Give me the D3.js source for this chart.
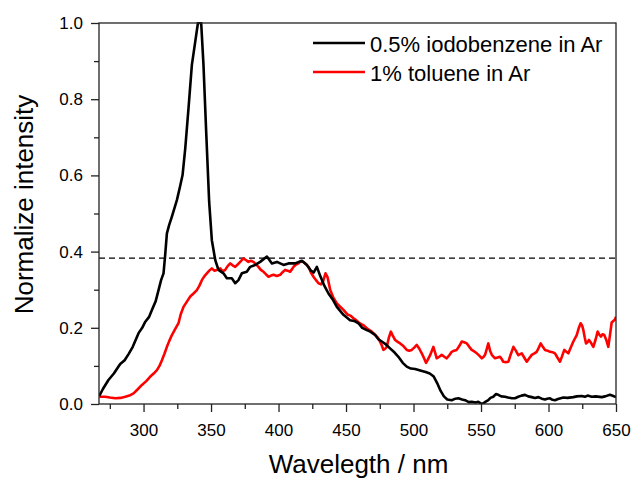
<!DOCTYPE html>
<html>
<head>
<meta charset="utf-8">
<script src="https://cdn.jsdelivr.net/npm/d3@7"></script>
<style>
  html, body { margin: 0; padding: 0; background: #fff; }
  svg { display: block; font-family: "Liberation Sans", Arial, sans-serif; }
</style>
</head>
<body>
<svg id="chart" width="633" height="478"></svg>
<script>
// Emission spectra, normalized intensity vs wavelength (nm)
const iodoWavelength = [267.2,270,274,278,282.7,286,288.9,292,296.3,299,301.3,304,306.2,309,311.1,313,314.8,316,317.3,319,321,324.7,327,328.9,330.9,333.3,335.8,338.3,340.3,342.7,344.4,346.4,348.6,350.6,353.1,355.5,359.2,361.7,365.4,367.9,370.3,372.8,376.5,379,382.7,386.4,391.4,395.1,398.8,403.7,407.4,412.3,417.3,421,424,426,428.4,431,434,437,440,443.2,448.1,453,456,459.2,462,465.4,468,471.5,474,476.5,479,482.6,486,488.8,492,495,498,501.2,505,509,512,515,517.5,520,522.5,525,528.3,531,533.2,536,538.2,541,543.1,546,548,550,551.7,553.5,555.4,557,559.1,561,562.8,565,567.8,570,572.8,575.2,577.6,580,582.6,585,587.6,590,592.5,595,597.4,599,601.1,603,604.8,607,609,611,614,618.4,621,624.6,627,629,632,635,639.4,642,645.5,648,650];
const iodoIntensity = [0.021,0.04,0.063,0.08,0.105,0.115,0.131,0.15,0.186,0.2,0.216,0.228,0.247,0.27,0.299,0.325,0.343,0.39,0.448,0.47,0.492,0.535,0.57,0.601,0.671,0.776,0.89,0.951,1.0,1.0,0.89,0.715,0.531,0.43,0.378,0.352,0.343,0.33,0.33,0.317,0.325,0.343,0.347,0.36,0.365,0.373,0.387,0.369,0.373,0.365,0.369,0.369,0.376,0.365,0.35,0.345,0.36,0.335,0.31,0.29,0.275,0.255,0.234,0.22,0.218,0.212,0.2,0.194,0.19,0.181,0.17,0.164,0.158,0.146,0.135,0.124,0.108,0.098,0.093,0.092,0.088,0.084,0.08,0.072,0.055,0.035,0.02,0.012,0.01,0.014,0.015,0.012,0.01,0.005,0.006,0.004,0.006,0.001,0.002,0.006,0.01,0.016,0.019,0.026,0.024,0.02,0.019,0.017,0.015,0.015,0.019,0.022,0.024,0.02,0.018,0.016,0.018,0.014,0.012,0.014,0.015,0.011,0.01,0.013,0.015,0.017,0.016,0.018,0.02,0.021,0.019,0.022,0.019,0.02,0.018,0.02,0.024,0.021,0.018];

const tolueneWavelength = [267.2,271.6,275,279,283,286.4,289.5,292.6,295.5,298.8,302,305,307.5,309.9,311.8,313.6,315.5,317.3,319,321,323.5,325.9,327.5,329.6,332,334.6,337,339.5,341.3,343.2,345,346.9,348.7,350.6,352.4,354.3,356.8,358.6,360.5,362.3,364.2,366,367.9,369.7,371.6,374,375.8,377.7,379.5,381.4,383.2,385.1,386.9,388.9,390.8,392.6,394.5,396.3,398.8,401.2,403,404.9,406.7,408.6,410,411.1,413,414.8,416.6,418.5,420.4,422.2,424,425.9,427.8,429.6,431.5,433,434.8,436.3,438.3,440.5,443.2,445.5,448.1,451,453.2,455.5,457.5,459.5,461,462.9,465,467,469.1,471.5,474,476,477.7,479,480.2,481.8,483.2,484.8,486.4,488.3,490.1,492.5,495,496.8,498.7,500.5,502.4,504.3,506.1,507.8,509.3,510.8,512.3,514.7,516,517.2,519,520.9,522.8,524.6,526.5,528.3,530,532,533.9,535.7,537.6,539.5,541.3,543.1,545,546.9,548.7,550.6,552,553,554.3,555.4,556.7,558,560.4,562.3,564.1,565.3,566.5,568.4,570.3,572,574,575.8,577.6,580.2,582,583.9,585.7,587.6,589.5,591.3,592.8,594.2,595.8,597.4,599.3,601.1,603,604.8,606.6,608.5,610,611.7,613.2,614.7,616.5,618.4,620.9,622.3,623.8,625,625.8,626.8,627.8,628.9,630,631.6,633.2,634.8,636.4,637.6,638.9,640,641.3,642.8,644.3,645.5,646.8,648,649.3,650];
const tolueneIntensity = [0.019,0.019,0.017,0.015,0.016,0.019,0.022,0.028,0.038,0.05,0.06,0.072,0.08,0.089,0.1,0.115,0.132,0.15,0.165,0.181,0.197,0.212,0.235,0.255,0.268,0.282,0.29,0.299,0.31,0.325,0.335,0.343,0.35,0.356,0.35,0.352,0.356,0.348,0.352,0.362,0.369,0.364,0.36,0.366,0.373,0.382,0.378,0.373,0.376,0.373,0.367,0.36,0.352,0.347,0.34,0.334,0.337,0.339,0.336,0.339,0.346,0.352,0.35,0.347,0.354,0.36,0.366,0.369,0.375,0.373,0.367,0.36,0.345,0.334,0.325,0.317,0.314,0.322,0.343,0.333,0.299,0.28,0.264,0.256,0.247,0.235,0.232,0.225,0.22,0.214,0.21,0.207,0.2,0.195,0.19,0.182,0.172,0.158,0.142,0.145,0.15,0.175,0.19,0.178,0.168,0.163,0.159,0.152,0.142,0.14,0.142,0.148,0.155,0.145,0.133,0.12,0.108,0.118,0.128,0.15,0.135,0.12,0.124,0.129,0.124,0.12,0.128,0.137,0.14,0.142,0.152,0.164,0.162,0.159,0.15,0.142,0.138,0.133,0.127,0.12,0.124,0.129,0.145,0.159,0.14,0.129,0.12,0.122,0.124,0.118,0.111,0.11,0.111,0.13,0.15,0.14,0.128,0.133,0.122,0.111,0.12,0.129,0.133,0.137,0.148,0.159,0.15,0.142,0.14,0.137,0.136,0.133,0.122,0.111,0.125,0.142,0.137,0.133,0.148,0.164,0.181,0.198,0.212,0.205,0.194,0.175,0.159,0.162,0.168,0.16,0.15,0.168,0.19,0.182,0.177,0.183,0.181,0.168,0.15,0.18,0.214,0.218,0.222,0.229];

const seriesNames = ["0.5% iodobenzene in Ar", "1% toluene in Ar"];
const seriesColors = ["#000000", "#ff0000"];
const xMajorTicks = [300, 350, 400, 450, 500, 550, 600, 650];
const xMinorTicks = [275, 325, 375, 425, 475, 525, 575, 625];
const yMajorTicks = [0.0, 0.2, 0.4, 0.6, 0.8, 1.0];
const yMinorTicks = [0.1, 0.3, 0.5, 0.7, 0.9];
const referenceLevel = 0.383;
const xTitle = "Wavelegth / nm";
const yTitle = "Normalize intensity";

const svg = d3.select("#chart");
const plot = { left: 99, right: 616, top: 23, bottom: 404 };

const x = d3.scaleLinear().domain([267, 650]).range([plot.left, plot.right]);
const y = d3.scaleLinear().domain([0, 1]).range([plot.bottom, plot.top]);

const axisColor = "#222";

svg.append("defs").append("clipPath").attr("id", "plotClip")
  .append("rect")
  .attr("x", plot.left).attr("y", plot.top - 1)
  .attr("width", plot.right - plot.left).attr("height", plot.bottom - plot.top + 1);

// Reference level (dashed)
svg.append("line")
  .attr("x1", x(267)).attr("x2", x(650))
  .attr("y1", y(referenceLevel)).attr("y2", y(referenceLevel))
  .attr("stroke", "#000").attr("stroke-width", 1.3)
  .attr("stroke-dasharray", "6,4");

// Spectra
const line = d3.line().x(d => x(d[0])).y(d => y(d[1]));
const series = [
  d3.zip(iodoWavelength, iodoIntensity),
  d3.zip(tolueneWavelength, tolueneIntensity)
];
const drawOrder = [1, 0];
drawOrder.forEach(i => {
  svg.append("path")
    .datum(series[i])
    .attr("clip-path", "url(#plotClip)")
    .attr("fill", "none")
    .attr("stroke", seriesColors[i])
    .attr("stroke-width", 2.6)
    .attr("stroke-linejoin", "round")
    .attr("d", line);
});

// Frame
svg.append("rect")
  .attr("x", plot.left).attr("y", plot.top)
  .attr("width", plot.right - plot.left).attr("height", plot.bottom - plot.top)
  .attr("fill", "none").attr("stroke", axisColor).attr("stroke-width", 1.3);

function styleAxis(g) {
  g.select(".domain").remove();
  g.selectAll(".tick line").attr("stroke", axisColor).attr("stroke-width", 1.3);
  g.selectAll(".tick text").attr("fill", "#000").style("font-size", "17px")
    .style("font-family", "'Liberation Sans', Arial, sans-serif");
}

// X axis
svg.append("g").attr("transform", `translate(0,${plot.bottom})`)
  .call(d3.axisBottom(x).tickValues(xMajorTicks).tickSize(8).tickPadding(12).tickFormat(d3.format("d")))
  .call(styleAxis);
svg.append("g").attr("transform", `translate(0,${plot.bottom})`)
  .call(d3.axisBottom(x).tickValues(xMinorTicks).tickSize(5).tickFormat(""))
  .call(styleAxis);

// Y axis
svg.append("g").attr("transform", `translate(${plot.left},0)`)
  .call(d3.axisLeft(y).tickValues(yMajorTicks).tickSize(8).tickPadding(8).tickFormat(d3.format(".1f")))
  .call(styleAxis);
svg.append("g").attr("transform", `translate(${plot.left},0)`)
  .call(d3.axisLeft(y).tickValues(yMinorTicks).tickSize(5).tickFormat(""))
  .call(styleAxis);

// Axis titles
svg.append("text")
  .attr("x", (plot.left + plot.right) / 2 + 1).attr("y", 473)
  .attr("text-anchor", "middle")
  .style("font-size", "26px")
  .text(xTitle);

svg.append("text")
  .attr("transform", `translate(33,${(plot.top + plot.bottom) / 2 - 9}) rotate(-90)`)
  .attr("text-anchor", "middle")
  .style("font-size", "26px")
  .text(yTitle);

// Legend
const legend = svg.append("g");
const legendRows = [43, 72];
seriesNames.forEach((name, i) => {
  legend.append("line")
    .attr("x1", 313).attr("x2", 365)
    .attr("y1", legendRows[i]).attr("y2", legendRows[i])
    .attr("stroke", seriesColors[i]).attr("stroke-width", 2.6);
  legend.append("text")
    .attr("x", 370).attr("y", legendRows[i] + 9)
    .style("font-size", "22px")
    .text(name);
});
</script>
</body>
</html>
